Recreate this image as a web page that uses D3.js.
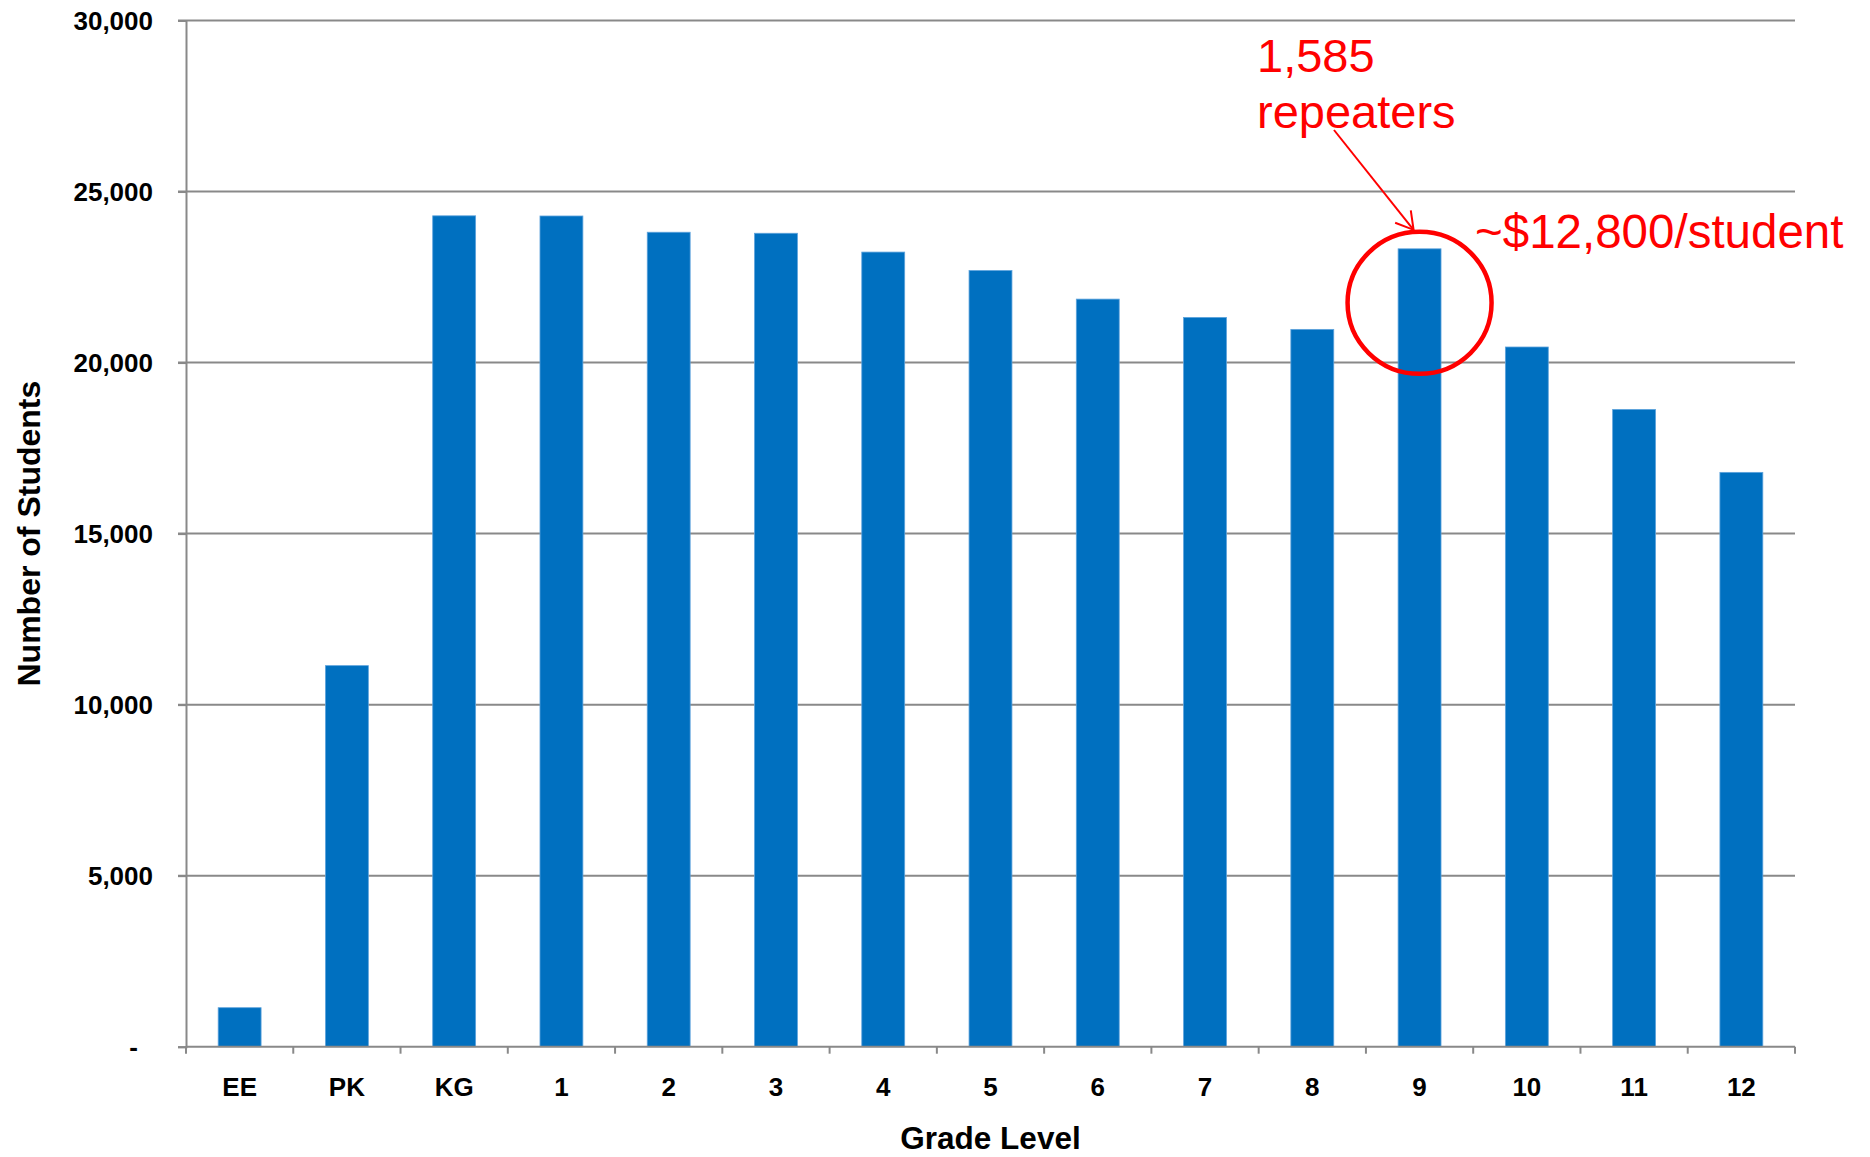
<!DOCTYPE html>
<html>
<head>
<meta charset="utf-8">
<script src="https://cdn.jsdelivr.net/npm/d3@7"></script>
<style>
  html, body { margin: 0; padding: 0; background: #fff; }
  svg { display: block; font-family: "Liberation Sans", Arial, sans-serif; }
</style>
</head>
<body>
<svg id="chart" width="1870" height="1157"></svg>
<script>
// ---- data ----
const grades = ["EE", "PK", "KG", "1", "2", "3", "4", "5", "6", "7", "8", "9", "10", "11", "12"];
const students = [1140, 11140, 24290, 24285, 23810, 23780, 23230, 22690, 21855, 21320, 20970, 23325, 20455, 18630, 16790];
const yTicks = [0, 5000, 10000, 15000, 20000, 25000, 30000];
const xTitle = "Grade Level";
const yTitle = "Number of Students";
const highlightGrade = "9";
const noteLines = ["1,585", "repeaters"];
const costNote = "~$12,800/student";

(function () {
// ---- layout ----
const svg = d3.select("#chart");
const pLeft = 186, pRight = 1795, pTop = 20.5, pBottom = 1046.7;
const axisColor = "#898989";
const barColor = "#0070C0";
const red = "#FF0000";

const x = d3.scaleBand().domain(grades).range([pLeft, pRight]).paddingInner(0.6).paddingOuter(0.3);
const y = d3.scaleLinear().domain([0, 30000]).range([pBottom, pTop]);

// gridlines
svg.append("g").selectAll("line").data(yTicks.filter(d => d > 0)).join("line")
  .attr("x1", pLeft - 8).attr("x2", pRight)
  .attr("y1", d => y(d)).attr("y2", d => y(d))
  .attr("stroke", axisColor).attr("stroke-width", 2);

// bars
svg.append("g").selectAll("rect").data(grades).join("rect")
  .attr("x", d => x(d))
  .attr("width", x.bandwidth())
  .attr("y", (d, i) => y(students[i]))
  .attr("height", (d, i) => y(0) - y(students[i]))
  .attr("fill", barColor)
  .attr("stroke", "#5ea3dc").attr("stroke-width", 0.8);

// y axis
const yAxis = svg.append("g").attr("transform", `translate(${pLeft},0)`)
  .call(d3.axisLeft(y).tickValues(yTicks).tickSize(8).tickPadding(0)
    .tickFormat(d => d === 0 ? "-" : d3.format(",")(d)));
yAxis.select(".domain").attr("stroke", axisColor).attr("stroke-width", 2);
yAxis.selectAll(".tick line").attr("stroke", axisColor).attr("stroke-width", 2);
yAxis.selectAll(".tick text")
  .attr("x", d => d === 0 ? -48 : -33)
  .attr("dy", "0.35em")
  .attr("fill", "#000").attr("font-size", 26).attr("font-weight", "bold")
  .attr("font-family", "'Liberation Sans', Arial, sans-serif");

// x axis
const xAxis = svg.append("g").attr("transform", `translate(0,${pBottom})`)
  .call(d3.axisBottom(x).tickSize(0).tickPadding(0));
xAxis.select(".domain").attr("stroke", axisColor).attr("stroke-width", 2)
  .attr("d", `M${pLeft},0H${pRight}`);
xAxis.selectAll(".tick text")
  .attr("y", 49).attr("dy", 0)
  .attr("fill", "#000").attr("font-size", 26).attr("font-weight", "bold")
  .attr("font-family", "'Liberation Sans', Arial, sans-serif");
// boundary ticks
const bounds = d3.range(grades.length + 1).map(i => pLeft + i * x.step());
xAxis.append("g").selectAll("line").data(bounds).join("line")
  .attr("x1", d => d).attr("x2", d => d).attr("y1", 0).attr("y2", 7)
  .attr("stroke", axisColor).attr("stroke-width", 2);

// axis titles
svg.append("text")
  .attr("x", (pLeft + pRight) / 2).attr("y", 1149)
  .attr("text-anchor", "middle").attr("font-size", 31.5).attr("font-weight", "bold")
  .text(xTitle);
svg.append("text")
  .attr("transform", `translate(40,${(pTop + pBottom) / 2}) rotate(-90)`)
  .attr("text-anchor", "middle").attr("font-size", 32).attr("font-weight", "bold")
  .text(yTitle);

// annotation
const hi = grades.indexOf(highlightGrade);
const cx = x(highlightGrade) + x.bandwidth() / 2;
const cy = y(students[hi]) + 54;
svg.append("ellipse")
  .attr("cx", cx).attr("cy", cy).attr("rx", 72).attr("ry", 71)
  .attr("fill", "none").attr("stroke", red).attr("stroke-width", 4.5);

svg.append("defs").append("marker")
  .attr("id", "arrow").attr("markerUnits", "userSpaceOnUse")
  .attr("viewBox", "-20 -12 22 24").attr("refX", 0).attr("refY", 0)
  .attr("markerWidth", 22).attr("markerHeight", 24).attr("orient", "auto")
  .append("path").attr("d", "M-17,-10L0,0L-17,10")
  .attr("fill", "none").attr("stroke", red).attr("stroke-width", 2);

svg.append("line")
  .attr("x1", 1334).attr("y1", 130)
  .attr("x2", cx - 6).attr("y2", cy - 73)
  .attr("stroke", red).attr("stroke-width", 2)
  .attr("marker-end", "url(#arrow)");

const note = svg.append("text").attr("fill", red).attr("font-size", 47);
note.append("tspan").attr("x", 1257).attr("y", 72).text(noteLines[0]);
note.append("tspan").attr("x", 1257).attr("y", 128).text(noteLines[1]);

svg.append("text").attr("x", 1475).attr("y", 248)
  .attr("fill", red).attr("font-size", 47.5).text(costNote);
})();
</script>
</body>
</html>
